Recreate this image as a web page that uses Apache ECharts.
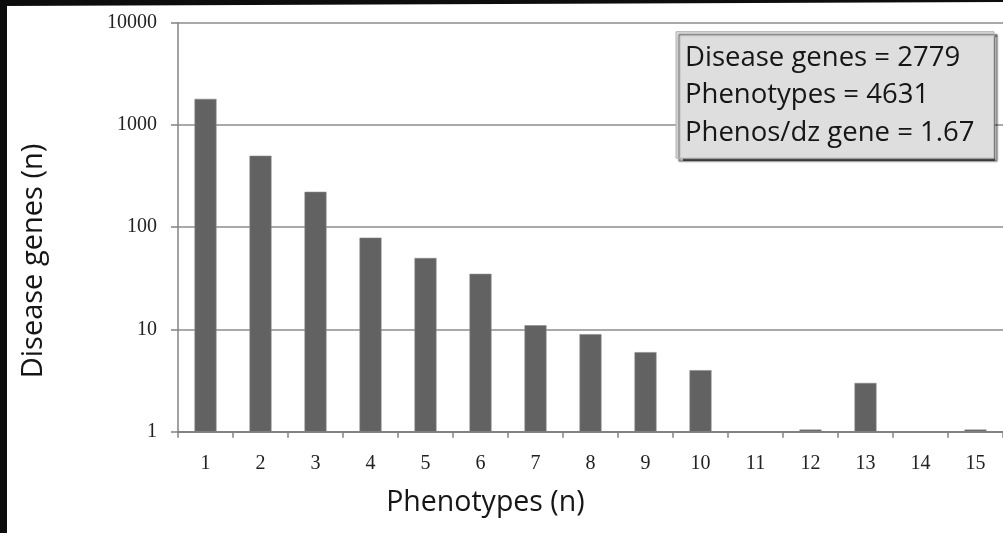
<!DOCTYPE html>
<html>
<head>
<meta charset="utf-8">
<script src="https://cdn.jsdelivr.net/npm/echarts@6/dist/echarts.min.js"></script>
<style>
html,body{margin:0;padding:0;background:#fff;}
#main{width:1003px;height:533px;}
</style>
</head>
<body>
<div id="main"></div>
<script>
var categories = ['1','2','3','4','5','6','7','8','9','10','11','12','13','14','15'];
var diseaseGenes = [1800, 500, 222, 79, 50, 35, 11, 9, 6, 4, null, 1.05, 3, null, 1.05];
var yTicks = [1, 10, 100, 1000, 10000];
var statLines = ['Disease genes = 2779', 'Phenotypes = 4631', 'Phenos/dz gene = 1.67'];
var xTitle = 'Phenotypes (n)';
var yTitle = 'Disease genes (n)';

var chart = echarts.init(document.getElementById('main'), null, {renderer: 'canvas'});
var sans = '"Open Sans", sans-serif';
var serif = '"Liberation Serif", serif';

chart.setOption({
  animation: false,
  backgroundColor: '#ffffff',
  grid: {left: 178, right: -1, top: 22.7, bottom: 101.3, containLabel: false},
  xAxis: {
    type: 'category',
    data: categories,
    boundaryGap: true,
    axisLine: {lineStyle: {color: '#828282', width: 2}},
    axisTick: {show: true, length: 6, lineStyle: {color: '#828282', width: 1.5}},
    axisLabel: {margin: 22, fontFamily: serif, fontSize: 20, color: '#222222'},
    splitLine: {show: false}
  },
  yAxis: {
    type: 'log',
    logBase: 10,
    min: yTicks[0],
    max: yTicks[yTicks.length - 1],
    axisLine: {show: true, lineStyle: {color: '#828282', width: 1.5}},
    axisTick: {show: true, length: 7, lineStyle: {color: '#828282', width: 1.5}},
    axisLabel: {margin: 21, fontFamily: serif, fontSize: 20, color: '#222222',
                formatter: function (v) { return String(Math.round(v)); }},
    splitLine: {show: true, lineStyle: {color: '#8c8c8c', width: 1.5}},
    minorTick: {show: false}
  },
  series: [{
    type: 'bar',
    data: diseaseGenes,
    barWidth: 22,
    itemStyle: {color: '#626262', borderColor: '#8a8a8a', borderWidth: 0.6}
  }],
  graphic: [
    {type: 'rect', left: 0, top: 0, shape: {width: 7, height: 533}, style: {fill: '#0d0d0d'}, z: 100},
    {type: 'polygon', shape: {points: [[0,0],[1003,0],[1003,2],[0,6]]}, style: {fill: '#0d0d0d'}, z: 100},
    {type: 'rect', shape: {x: 676, y: 31.7, width: 318, height: 126.5},
     style: {fill: '#dedede', stroke: '#b0b0b0', lineWidth: 1,
             shadowColor: 'rgba(0,0,0,0.7)', shadowOffsetX: 3, shadowOffsetY: 3, shadowBlur: 1.5}, z: 50},
    {type: 'text', x: 685, y: 39, z: 51,
     style: {text: statLines.join('\n'), fontFamily: sans, fontSize: 27.5, lineHeight: 37.6,
             fill: '#161616', textAlign: 'left', textVerticalAlign: 'top'}},
    {type: 'text', x: 485.4, y: 502.7, z: 51,
     style: {text: xTitle, fontFamily: sans, fontSize: 28.5, fill: '#161616',
             textAlign: 'center', textVerticalAlign: 'middle'}},
    {type: 'text', x: 33.5, y: 261, rotation: Math.PI / 2, z: 51,
     style: {text: yTitle, fontFamily: sans, fontSize: 29, fill: '#161616',
             textAlign: 'center', textVerticalAlign: 'middle'}}
  ]
});
</script>
</body>
</html>
